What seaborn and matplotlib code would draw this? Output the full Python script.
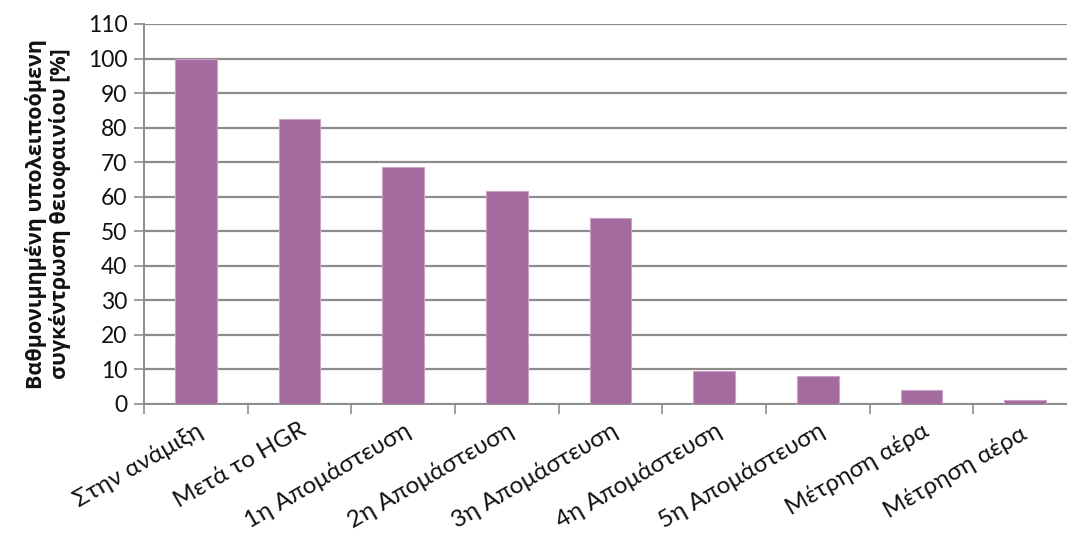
import matplotlib
matplotlib.use("Agg")
import matplotlib.pyplot as plt
import seaborn as sns
import pandas as pd
import numpy as np

categories = ["Στην ανάμιξη", "Μετά το HGR", "1η Απομάστευση", "2η Απομάστευση",
              "3η Απομάστευση", "4η Απομάστευση", "5η Απομάστευση",
              "Μέτρηση αέρα", "Μέτρηση αέρα "]
values = [100.0, 82.5, 68.5, 61.8, 53.7, 9.6, 8.1, 4.0, 1.3]
yticks = list(range(0, 111, 10))

df = pd.DataFrame({"stage": categories, "value": values})

sns.set_theme(style="white")
plt.rcParams["font.family"] = ["Lato", "DejaVu Sans"]

fig = plt.figure(figsize=(10.67, 5.33), dpi=100)
ax = fig.add_axes([144 / 1067, 1 - 404 / 533, 933 / 1067, 380 / 533])

sns.barplot(data=df, x="stage", y="value", color="#A36B9E", saturation=1,
            width=0.4, ax=ax, edgecolor="#C9A3C6", linewidth=0.8, zorder=3)

ax.set_xlim(-0.5, len(categories) - 0.5)
ax.set_ylim(0, 110)
ax.set_yticks(yticks)
ax.yaxis.grid(True, color="#8C8C8C", linewidth=1.6, zorder=0)
ax.xaxis.grid(False)

for s in ["top", "right"]:
    ax.spines[s].set_visible(False)
for s in ["left", "bottom"]:
    ax.spines[s].set_color("#8C8C8C")
    ax.spines[s].set_linewidth(1.4)

ax.tick_params(axis="y", left=True, length=7, width=1.2, color="#8C8C8C",
               labelsize=16.5, pad=5, labelcolor="#111111")

# category boundaries carry the x tick marks; labels sit at centres
ax.set_xticks(np.arange(len(categories)))
ax.set_xticklabels(categories, rotation=30, ha="right", rotation_mode="anchor",
                   fontsize=17.5, color="#111111")
ax.tick_params(axis="x", length=0, pad=11)
ax.set_xticks(np.arange(len(categories)) - 0.5, minor=True)
ax.tick_params(axis="x", which="minor", bottom=True, length=7, width=1.2,
               color="#8C8C8C")

ax.set_xlabel("")
ax.set_ylabel("Βαθμονιμημένη υπολειποόμενη\nσυγκέντρωση θειοφαινίου [%]",
              fontsize=15.5, fontweight="bold", family=["Open Sans", "DejaVu Sans"],
              color="#111111", labelpad=12, linespacing=1.1)

fig.savefig("out.png", dpi=100)
